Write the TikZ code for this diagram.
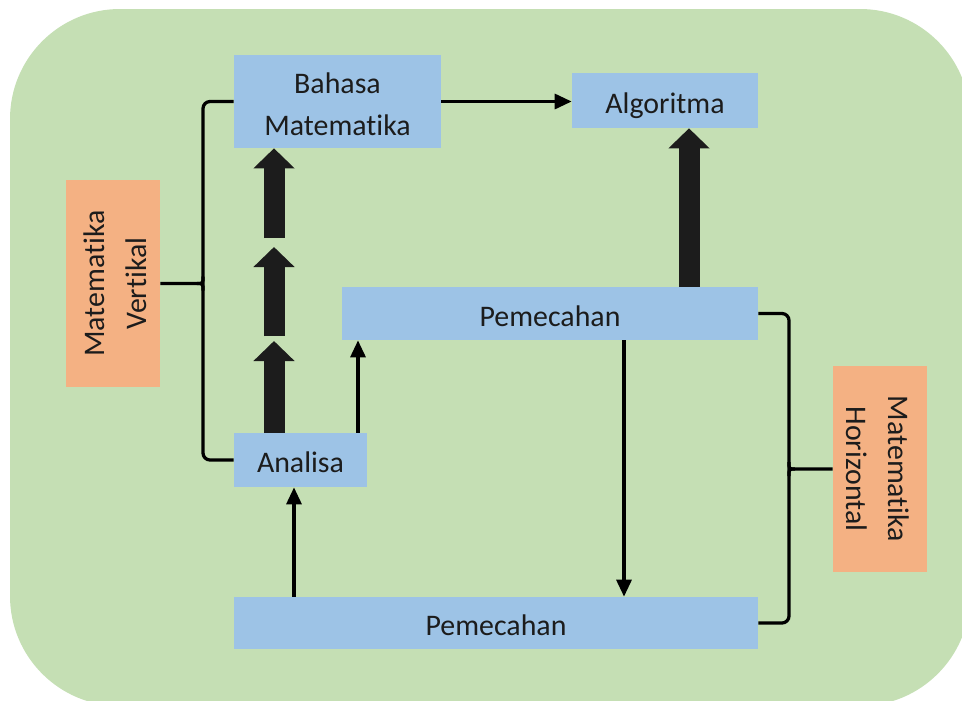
\documentclass[tikz,border=0pt]{standalone}
\usepackage{fontspec}
\setmainfont{Carlito}[Ligatures={NoCommon,NoContextual}]
\usetikzlibrary{arrows.meta,calc}
\definecolor{bggreen}{HTML}{C5DFB4}
\definecolor{boxblue}{HTML}{9DC3E6}
\definecolor{boxorange}{HTML}{F4B183}
\definecolor{ink}{HTML}{1C1C1C}
\newcommand\lowered[1]{\raisebox{-2.5pt}[\height][\depth]{\begin{tabular}{@{}c@{}}#1\end{tabular}}}
\begin{document}
\begin{tikzpicture}[x=0.02cm,y=-0.02cm,
  bluebox/.style={fill=boxblue, inner sep=0pt, text=ink, font=\fontsize{17}{24}\selectfont},
  orangebox/.style={fill=boxorange, inner sep=0pt, text=ink, font=\fontsize{17}{24}\selectfont, minimum width=1.88cm},
  conn/.style={line width=0.065cm, draw=black},
  thinarrow/.style={conn, -{Triangle[length=0.34cm,width=0.3cm]}},
  blockarrow/.style={draw=ink, line width=0.42cm, -{Triangle[length=0.4cm,width=0.8cm]}}]
\useasboundingbox (0,0) rectangle (962,700);
\clip (0,0) rectangle (962,700);
\fill[bggreen, rounded corners=2.2cm] (10,9) rectangle (970,706);

\node[bluebox, minimum width=4.14cm, minimum height=1.86cm] (bahasa) at (337.5,101.5) {\lowered{Bahasa\\Matematika}};
\node[bluebox, minimum width=3.72cm, minimum height=1.10cm] (algo) at (665,100.5) {\lowered{Algoritma}};
\node[bluebox, minimum width=8.32cm, minimum height=1.06cm] (pem1) at (550,313.5) {\lowered{Pemecahan}};
\node[bluebox, minimum width=2.66cm, minimum height=1.08cm] (analisa) at (300.5,460) {\lowered{Analisa}};
\node[bluebox, minimum width=10.48cm, minimum height=1.04cm] (pem2) at (496,623) {\lowered{Pemecahan}};
\node[orangebox, minimum height=4.14cm] (vert) at (113,283.5) {\rotatebox{90}{\lowered{Matematika\\Vertikal}}};
\node[orangebox, minimum height=4.12cm] (horiz) at (880,469) {\rotatebox{-90}{\lowered{Matematika\\Horizontal}}};

% thin arrows
\draw[thinarrow] (bahasa.east) -- (algo.west |- bahasa.east);
\coordinate (t1) at (358,0);
\coordinate (t2) at (294,0);
\coordinate (t3) at (624,0);
\draw[thinarrow] (analisa.north -| t1) -- (pem1.south -| t1);
\draw[thinarrow] (pem2.north -| t2) -- (analisa.south -| t2);
\draw[thinarrow] (pem1.south -| t3) -- (pem2.north -| t3);

% block arrows
\coordinate (bx) at (689,0);
\draw[blockarrow] (pem1.north -| bx) -- (algo.south -| bx);
\coordinate (k1) at (274,238);
\coordinate (k2) at (274,247);
\coordinate (k3) at (274,336);
\coordinate (k4) at (274,341);
\draw[blockarrow] (analisa.north -| k1) -- (k4);
\draw[blockarrow] (k3) -- (k2);
\draw[blockarrow] (k1) -- (bahasa.south -| k1);

% left brace
\coordinate (lbx) at (203,0);
\coordinate (lm) at (vert.east -| lbx);
\draw[conn, rounded corners=0.14cm] (bahasa.west) -| (lm) |- (analisa.west);
\draw[conn] (vert.east) -- ($(lm)+(-6,0)$) .. controls (lm) .. ($(lm)+(0,-7)$);
\draw[conn] ($(lm)+(-6,0)$) .. controls (lm) .. ($(lm)+(0,7)$);

% right brace
\coordinate (rbx) at (789,0);
\coordinate (rm) at (horiz.west -| rbx);
\draw[conn, rounded corners=0.14cm] (pem1.east) -| (rm) |- (pem2.east);
\draw[conn] (horiz.west) -- ($(rm)+(6,0)$) .. controls (rm) .. ($(rm)+(0,-7)$);
\draw[conn] ($(rm)+(6,0)$) .. controls (rm) .. ($(rm)+(0,7)$);
\end{tikzpicture}
\end{document}
